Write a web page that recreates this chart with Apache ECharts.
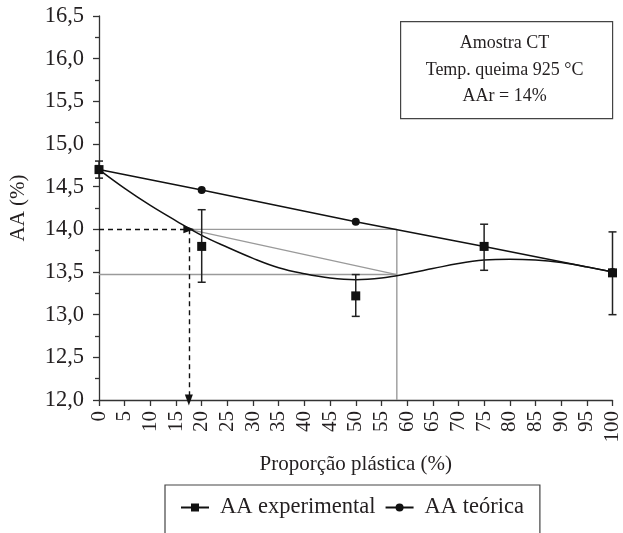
<!DOCTYPE html>
<html><head><meta charset="utf-8">
<script src="https://cdn.jsdelivr.net/npm/echarts@6/dist/echarts.min.js"></script>
<style>html,body{margin:0;padding:0;background:#fff}#c{width:623px;height:533px}</style>
</head><body><div id="c"></div>
<script>
// ---- data ----
const expX = [0, 20, 50, 75, 100];
const expY = [14.70, 13.80, 13.22, 13.80, 13.49];
const expLow = [14.60, 13.38, 12.98, 13.52, 13.00];
const expHigh = [14.80, 14.23, 13.47, 14.06, 13.97];
const teoX = [0, 20, 50, 75, 100];
const teoY = [14.70, 14.46, 14.09, 13.80, 13.50];
const fitX = [0, 5, 10, 15, 20, 25, 30, 35, 40, 45, 50, 55, 60, 65, 70, 75, 80, 85, 90, 95, 100];
const fitY = [14.70, 14.48, 14.28, 14.10, 13.93, 13.79, 13.66, 13.55, 13.48, 13.43, 13.41, 13.43, 13.48, 13.54, 13.60, 13.64, 13.65, 13.64, 13.61, 13.56, 13.50];
// reading guides (AAr = 14 % -> proporção plástica)
const guideY = 14.0;
const guideX = 17.5;
const crossX = 58;
const crossY = 13.47;
const yMin = 12, yMax = 16.5, yStep = 0.5;
const xMin = 0, xMax = 100, xStep = 5;
const boxLines = ['Amostra CT', 'Temp. queima 925 °C', 'AAr = 14%'];

const FONT = 'Liberation Serif';
const TXT = '#231f20';
const AX = '#333';
const GREY = '#9a9a9a';

const zip = (xs, ys) => xs.map((x, i) => [x, ys[i]]);
const greyLine = (pts) => ({
  type: 'line', data: pts, symbol: 'none', silent: true,
  lineStyle: { color: GREY, width: 1.4 }, z: 1, animation: false
});

const chart = echarts.init(document.getElementById('c'));
chart.setOption({
  animation: false,
  textStyle: { fontFamily: FONT, color: TXT },
  grid: { left: 95, right: 9, top: 16, bottom: 133 },
  xAxis: {
    type: 'value', min: xMin, max: xMax, interval: xStep,
    name: 'Proporção plástica (%)', nameLocation: 'middle', nameGap: 54,
    nameTextStyle: { fontFamily: FONT, fontSize: 21, color: TXT },
    axisLine: { lineStyle: { color: AX, width: 1.3 } },
    axisTick: { show: true, inside: false, length: 6, lineStyle: { color: AX, width: 1.3 } },
    axisLabel: { rotate: 90, margin: 11, fontFamily: FONT, fontSize: 21, color: TXT },
    splitLine: { show: false }
  },
  yAxis: {
    type: 'value', min: yMin, max: yMax, interval: yStep,
    name: 'AA (%)', nameLocation: 'middle', nameGap: 70, nameRotate: 90,
    nameTextStyle: { fontFamily: FONT, fontSize: 21, color: TXT },
    axisLine: { show: true, lineStyle: { color: AX, width: 1.3 } },
    axisTick: { show: true, length: 6, lineStyle: { color: AX, width: 1.3 } },
    minorTick: { show: true, splitNumber: 2, length: 4, lineStyle: { color: AX, width: 1.3 } },
    axisLabel: { margin: 15, fontFamily: FONT, fontSize: 22.5, color: TXT,
      formatter: v => v.toFixed(1).replace('.', ',') },
    splitLine: { show: false }
  },
  legend: {
    top: 485, left: 165,
    data: ['AA experimental', 'AA teórica'],
    itemWidth: 28, itemHeight: 10, itemGap: 9,
    borderColor: '#444', borderWidth: 1.2,
    padding: [11, 16, 30, 15],
    textStyle: { fontFamily: FONT, fontSize: 22.5, color: TXT, padding: [0, 0, 0, 6] }
  },
  graphic: [{
    type: 'group', left: 400, top: 21,
    children: [
      { type: 'rect', shape: { x: 0, y: 0, width: 212, height: 97 },
        style: { fill: '#fff', stroke: '#444', lineWidth: 1.2 } },
      ...boxLines.map((t, i) => ({
        type: 'text', x: 104, y: 22 + i * 26.5,
        style: { text: t, fill: TXT, font: '18px "' + FONT + '"', align: 'center', verticalAlign: 'middle' }
      }))
    ]
  }],
  series: [
    greyLine([[guideX, guideY], [crossX, guideY]]),
    greyLine([[xMin, crossY], [crossX, crossY]]),
    greyLine([[crossX, yMin], [crossX, guideY]]),
    greyLine([[guideX, guideY], [crossX, crossY]]),
    {
      type: 'line', name: 'guides', data: [], silent: true,
      markLine: {
        silent: true, symbol: ['none', 'triangle'], symbolSize: [8, 11],
        label: { show: false },
        lineStyle: { color: '#111', width: 1.4, type: [5, 4] },
        emphasis: { disabled: true },
        data: [
          [{ coord: [xMin, guideY] }, { coord: [guideX, guideY] }],
          [{ coord: [guideX, guideY] }, { coord: [guideX, yMin] }]
        ]
      }
    },
    {
      type: 'line', name: 'AA experimental', data: zip(fitX, fitY),
      smooth: 0.4, showSymbol: false, symbol: 'rect', symbolSize: 9,
      lineStyle: { color: '#111', width: 1.5 }, itemStyle: { color: '#111' }, z: 3
    },
    {
      type: 'custom', name: 'AA experimental',
      data: expX.map((x, i) => [x, expLow[i], expHigh[i]]),
      renderItem: (params, api) => {
        const x = api.value(0);
        const lo = api.coord([x, api.value(1)]);
        const hi = api.coord([x, api.value(2)]);
        const w = 4;
        const st = { stroke: '#222', lineWidth: 1.5 };
        return { type: 'group', children: [
          { type: 'line', shape: { x1: lo[0], y1: lo[1], x2: hi[0], y2: hi[1] }, style: st },
          { type: 'line', shape: { x1: lo[0] - w, y1: lo[1], x2: lo[0] + w, y2: lo[1] }, style: st },
          { type: 'line', shape: { x1: hi[0] - w, y1: hi[1], x2: hi[0] + w, y2: hi[1] }, style: st }
        ]};
      }, z: 4
    },
    {
      type: 'scatter', name: 'AA experimental', data: zip(expX, expY),
      symbol: 'rect', symbolSize: 9, itemStyle: { color: '#111', opacity: 1 }, z: 5
    },
    {
      type: 'line', name: 'AA teórica', data: zip(teoX, teoY),
      symbol: 'circle', symbolSize: 8, showSymbol: true,
      lineStyle: { color: '#111', width: 1.5 }, itemStyle: { color: '#111', opacity: 1 }, z: 5
    }
  ]
});
</script>
</body></html>
